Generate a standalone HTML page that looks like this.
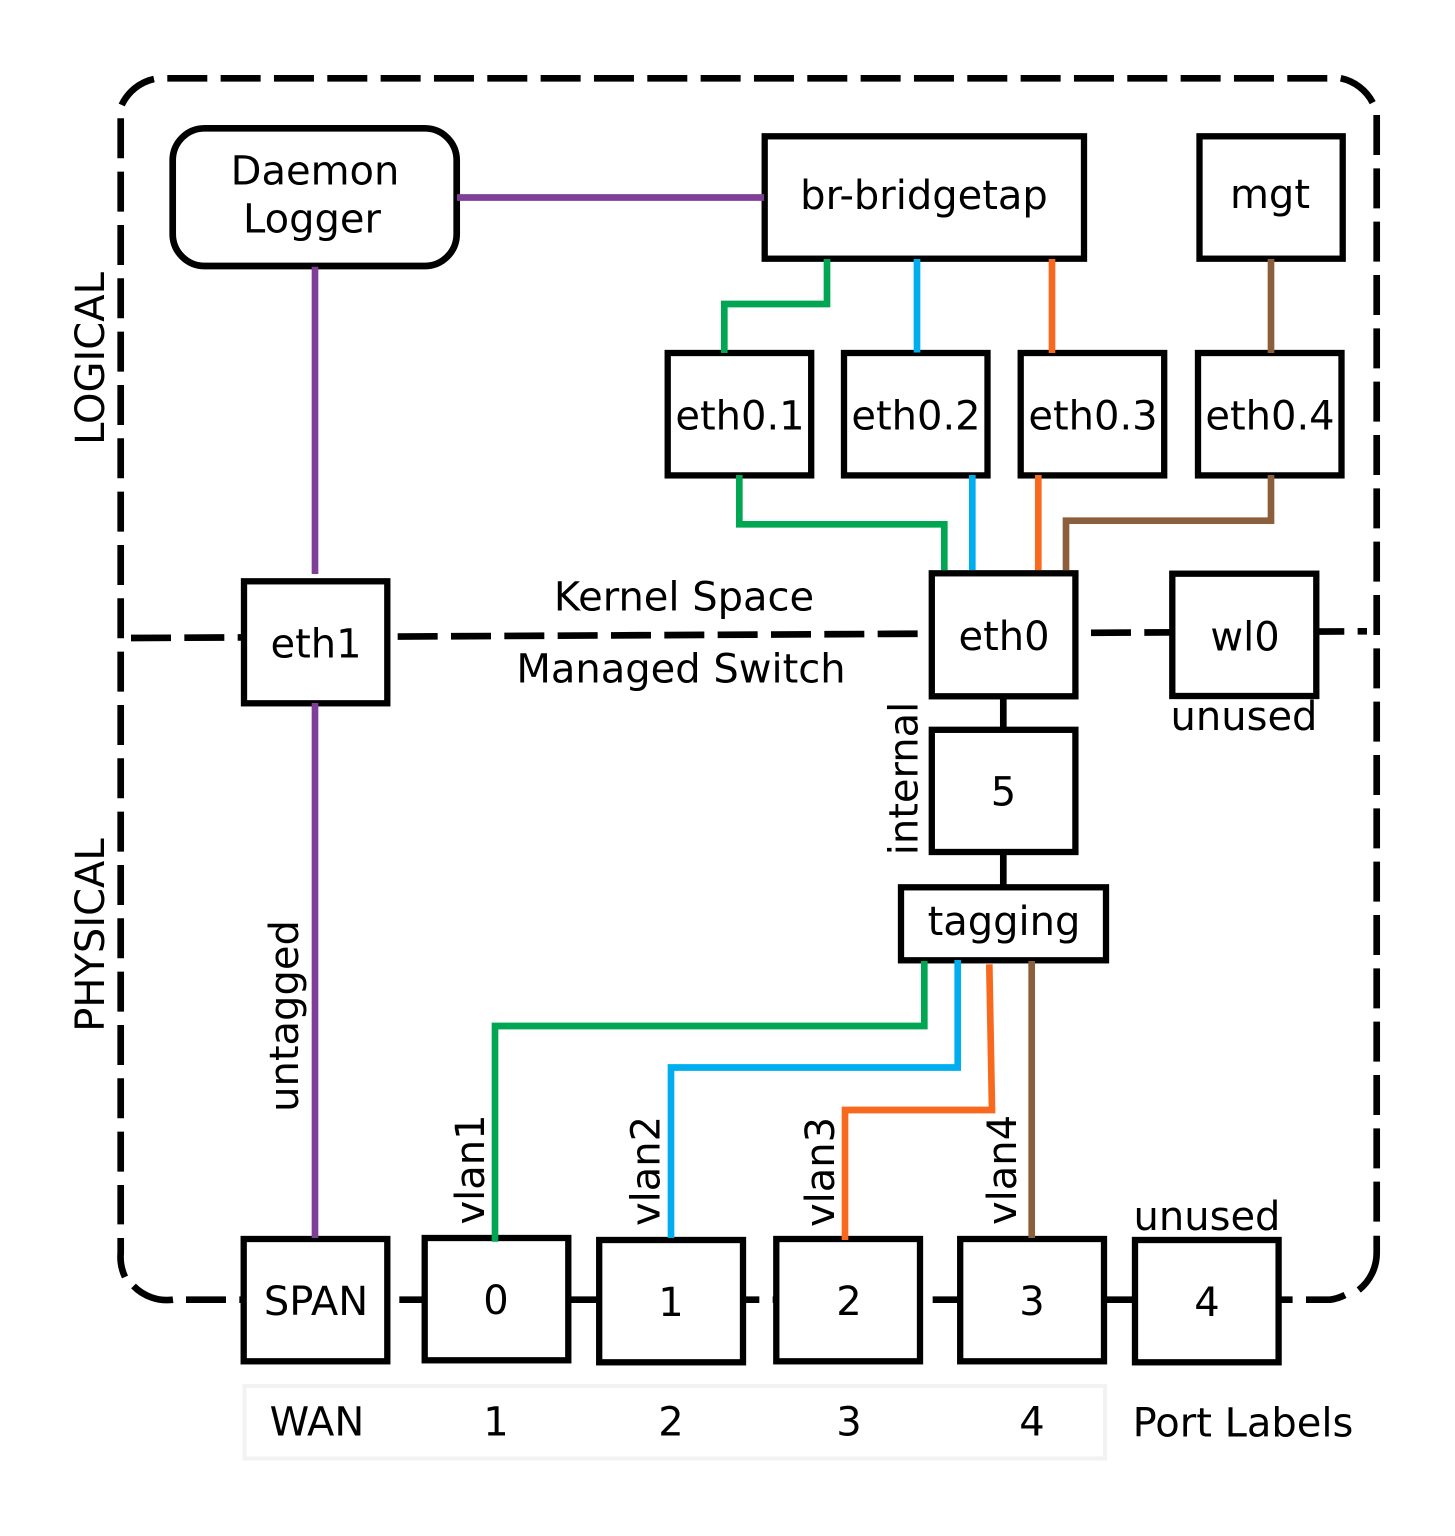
<!DOCTYPE html>
<html>
<head>
<meta charset="utf-8">
<style>
html,body{margin:0;padding:0;background:#fff;width:1455px;height:1536px;overflow:hidden}
svg{display:block}
text{font-family:"DejaVu Sans",sans-serif;font-size:40px;fill:#000;text-anchor:middle}
.b{fill:#fff;stroke:#000;stroke-width:6.3}
path.l{fill:none;stroke-width:6.67}
.d{fill:none;stroke:#000;stroke-width:6.67;stroke-dasharray:40 13.333}
.s{fill:none;stroke:#000;stroke-width:6.67}
</style>
</head>
<body>
<svg width="1455" height="1536" viewBox="0 0 1455 1536" xmlns="http://www.w3.org/2000/svg">
<!-- outer dashed border -->
<path class="d" d="M167.3 78.3H1327.4"/>
<path class="d" d="M120.7 118.3V1224.4"/>
<path class="d" d="M1376.7 115V1222"/>
<path class="d" d="M186 1299.7H1292.6"/>
<path class="s" d="M121.7 105A47 47 0 0 1 154 79"/>
<path class="s" d="M1340.7 78.3A47 47 0 0 1 1372.7 102.7"/>
<path class="s" d="M120.7 1238V1253A47 47 0 0 0 125 1277"/>
<path class="s" d="M133.5 1286A47 47 0 0 0 173 1299.7"/>
<path class="s" d="M1376.7 1235.7V1253A47 47 0 0 1 1358.7 1290"/>
<path class="s" d="M1345 1295A47 47 0 0 1 1330 1299.7H1306"/>
<!-- divider -->
<path class="d" d="M131 638L1367 631.3"/>
<!-- black links -->
<path class="s" d="M1003.3 696V730M1003.3 852V887"/>

<!-- boxes -->
<rect x="172.7" y="128.3" width="284" height="137.7" rx="32" ry="32" fill="#fff" stroke="#000" stroke-width="6.67"/>
<rect x="764.7" y="136.3" width="319.3" height="122.4" class="b"/>
<rect x="1199.5" y="136.3" width="143.2" height="122.4" class="b"/>
<rect x="667.7" y="353" width="143.5" height="122.4" class="b"/>
<rect x="844" y="353" width="143.5" height="122.4" class="b"/>
<rect x="1020.7" y="353" width="143.5" height="122.4" class="b"/>
<rect x="1198" y="353" width="143.5" height="122.4" class="b"/>
<rect x="244" y="581.3" width="143.3" height="122" class="b"/>
<rect x="931.8" y="573.3" width="143.6" height="123" class="b"/>
<rect x="1172.3" y="573.7" width="144" height="122.3" class="b"/>
<rect x="931.8" y="729.8" width="143.6" height="122.2" class="b"/>
<rect x="901" y="887.3" width="205" height="73" class="b"/>
<rect x="243.7" y="1239" width="143.6" height="122.3" class="b"/>
<rect x="424.7" y="1238" width="143.6" height="122.3" class="b"/>
<rect x="599.2" y="1240" width="143.8" height="122.3" class="b"/>
<rect x="776.3" y="1239" width="143.7" height="122.3" class="b"/>
<rect x="960.2" y="1239" width="143.8" height="122.3" class="b"/>
<rect x="1135" y="1240" width="143.6" height="122.3" class="b"/>
<rect x="244.5" y="1386" width="860.5" height="72.5" fill="none" stroke="#f2f2f2" stroke-width="4"/>

<!-- connectors -->
<g stroke="#7f3f98">
<path class="l" d="M457 197.5H764"/>
<path class="l" d="M315 266.7V574"/>
<path class="l" d="M315 703V1238"/>
</g>
<g stroke="#00a651">
<path class="l" d="M827 259V304H724.3V353"/>
<path class="l" d="M739.3 475V524.3H944.3V570"/>
<path class="l" d="M924.3 961V1026H495V1241.7"/>
</g>
<g stroke="#00aeef">
<path class="l" d="M917 259V352.5"/>
<path class="l" d="M972.3 475V570"/>
<path class="l" d="M957.7 960V1067.5H671V1238"/>
</g>
<g stroke="#f8691e">
<path class="l" d="M1052 259V353"/>
<path class="l" d="M1038.3 475V570"/>
<path class="l" d="M989.3 964.3L992 1110H845V1240"/>
</g>
<g stroke="#8b5e3c">
<path class="l" d="M1271 259V353"/>
<path class="l" d="M1271 475V520.7H1066V570"/>
<path class="l" d="M1031.7 961V1238"/>
</g>

<!-- labels -->
<text x="315" y="184.5">Daemon</text>
<text x="312" y="232.5">Logger</text>
<text x="924" y="209">br-bridgetap</text>
<text x="1270" y="208">mgt</text>
<text x="740" y="429.5">eth0.1</text>
<text x="916" y="429.5">eth0.2</text>
<text x="1093" y="429.5">eth0.3</text>
<text x="1270" y="429.5">eth0.4</text>
<text x="684" y="610.5">Kernel Space</text>
<text x="681" y="682.5">Managed Switch</text>
<text x="316" y="657.5">eth1</text>
<text x="1004" y="650">eth0</text>
<text x="1245" y="650.5">wl0</text>
<text x="1244" y="730">unused</text>
<text x="1003.5" y="805.5">5</text>
<text x="1004" y="935">tagging</text>
<text x="316" y="1315">SPAN</text>
<text x="496" y="1314">0</text>
<text x="671" y="1316">1</text>
<text x="849" y="1315">2</text>
<text x="1032" y="1315">3</text>
<text x="1207" y="1316">4</text>
<text x="1207" y="1230">unused</text>
<text x="317" y="1435.7">WAN</text>
<text x="496" y="1435.7">1</text>
<text x="671" y="1435.7">2</text>
<text x="849" y="1435.7">3</text>
<text x="1032" y="1435.7">4</text>
<text x="1243" y="1436.5">Port Labels</text>
<text transform="translate(104 358.5) rotate(-90)">LOGICAL</text>
<text transform="translate(104 935) rotate(-90)">PHYSICAL</text>
<text transform="translate(917.5 778.5) rotate(-90)">internal</text>
<text transform="translate(298 1016) rotate(-90)">untagged</text>
<text transform="translate(484 1169.5) rotate(-90)">vlan1</text>
<text transform="translate(659.5 1171) rotate(-90)">vlan2</text>
<text transform="translate(834 1172) rotate(-90)">vlan3</text>
<text transform="translate(1016 1170) rotate(-90)">vlan4</text>
</svg>
</body>
</html>
